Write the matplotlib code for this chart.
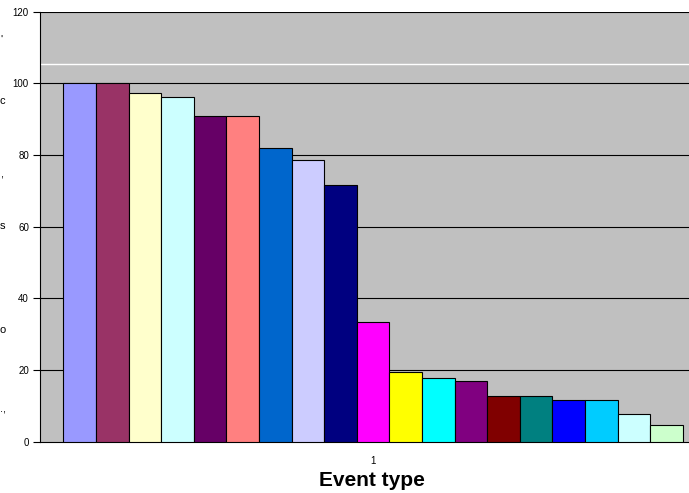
import matplotlib
matplotlib.use("Agg")
import matplotlib.pyplot as plt
import numpy as np

values = [100, 100, 97.2, 96.3, 91, 91, 82, 78.5, 71.7, 33.4, 19.4, 17.7,
          16.9, 12.7, 12.7, 11.6, 11.6, 7.7, 4.8]
colors = ["#9999FF", "#993366", "#FFFFCC", "#CCFFFF", "#660066", "#FF8080",
          "#0066CC", "#CCCCFF", "#000080", "#FF00FF", "#FFFF00", "#00FFFF",
          "#800080", "#800000", "#008080", "#0000FF", "#00CCFF", "#CCFFFF",
          "#CCFFCC"]
reference_line = 105.4
y_ticks = [0, 20, 40, 60, 80, 100, 120]
x_tick_label = "1"
x_label = "Event type"

plt.rcParams['font.family'] = ['Liberation Sans', 'DejaVu Sans']

fig = plt.figure(figsize=(6.89, 4.93), dpi=100)
ax = fig.add_axes([40/689, 1-441.7/493, 1-40/689, (441.7-11.7)/493])
ax.set_facecolor("#C0C0C0")

x = np.arange(len(values))
ax.bar(x, values, width=1.0, color=colors, edgecolor="black", linewidth=0.8, zorder=3)

for t in y_ticks[1:]:
    ax.axhline(t, color="black", linewidth=0.8, zorder=1)
ax.axhline(reference_line, color="white", linewidth=1.0, zorder=2)

ax.set_ylim(0, 120)
ax.set_xlim(-1.22, 18.69)
ax.set_yticks(y_ticks)
ax.set_yticklabels([str(t) for t in y_ticks], fontsize=7)
ax.set_xticks([9])
ax.set_xticklabels([x_tick_label], fontsize=7)
ax.tick_params(axis='y', length=5, width=0.8, pad=3)
ax.tick_params(axis='x', length=0, pad=10)
for s in ["top", "right"]:
    ax.spines[s].set_visible(False)
ax.spines["left"].set_linewidth(0.8)
ax.spines["bottom"].set_linewidth(0.8)

fig.text(372/689, 1-480.7/493, x_label, fontsize=15, fontweight="bold",
         ha="center", va="center")

# clipped fragments of the y-axis title at the left edge
for ch, yy in [("'", 40), ("c", 101), (",", 175), ("s", 226), ("o", 330), (".,", 409)]:
    fig.text(0/689, 1-yy/493, ch, fontsize=8, ha="left", va="center")

fig.savefig("out.png", dpi=100)
